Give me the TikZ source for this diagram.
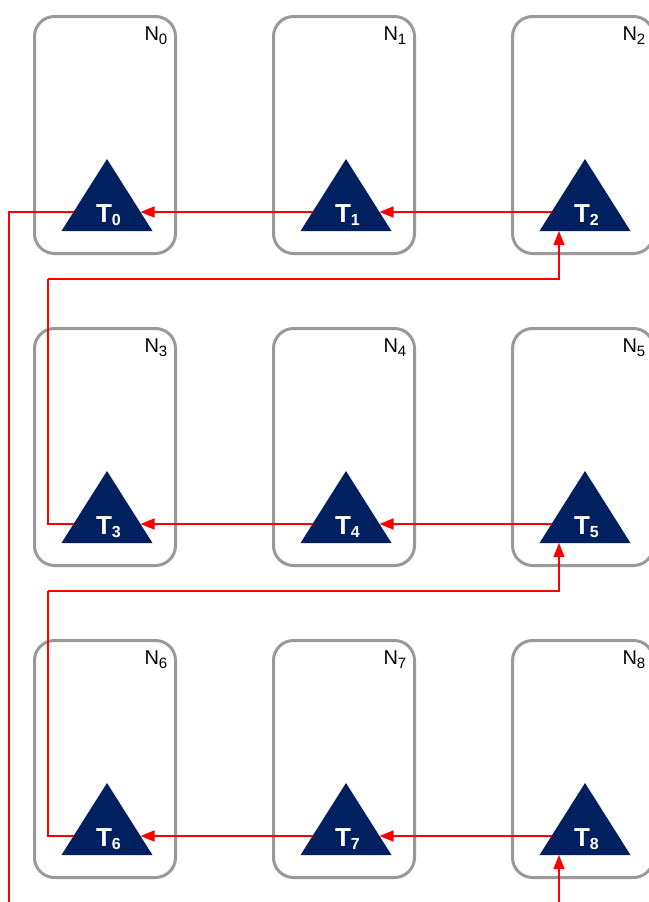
\documentclass[tikz,border=0pt]{standalone}
\usepackage{fontspec}
\setmainfont{Liberation Sans}
\usetikzlibrary{arrows.meta,calc}
\definecolor{taskblue}{HTML}{002060}
\definecolor{boxgray}{HTML}{999999}
\newcommand\nsub[1]{\raisebox{-4pt}{\fontsize{15}{15}\selectfont #1}}
\newcommand\tsub[1]{\raisebox{-3pt}{\fontsize{16}{16}\selectfont #1}}
\tikzset{
  nodebox/.style={draw=boxgray, line width=3pt, rounded corners=20pt,
    minimum width=141pt, minimum height=237pt, inner sep=0pt, outer sep=0pt},
  nodename/.style={anchor=base east, inner sep=0pt, font=\fontsize{20}{20}\selectfont},
  tasklabel/.style={anchor=base, inner sep=0pt, text=white,
    font=\bfseries\fontsize{26}{26}\selectfont},
  link/.style={red, line width=1.6pt},
  flow/.style={link, -{Triangle[length=14pt,width=11pt]}}
}
\begin{document}
\begin{tikzpicture}[x=1pt, y=-1pt]
\useasboundingbox (0,0) rectangle (648,902);

% nine compute nodes, each holding one task
\foreach \i/\c/\r in {0/0/0,1/1/0,2/2/0,3/0/1,4/1/1,5/2/1,6/0/2,7/1/2,8/2/2} {
  \pgfmathsetmacro\cx{105+239*\c}
  \pgfmathsetmacro\cy{135+312*\r}
  \node[nodebox] (n\i) at (\cx,\cy) {};
  \node[nodename] (nl\i) at ($(n\i.north east)+(-8,24)$) {N\nsub{\i}};
  \coordinate (t\i) at ($(n\i.center)+(2,77)$);
  \fill[taskblue] ($(t\i)+(0,-53)$) -- ($(t\i)+(45.5,19)$) -- ($(t\i)+(-45.5,19)$) -- cycle;
  \node[tasklabel] (tl\i) at ($(t\i)+(1.5,10)$) {T\tsub{\i}};
  \coordinate (t\i-w) at ($(t\i)+(-33.5,0)$);
  \coordinate (t\i-e) at ($(t\i)+(33.5,0)$);
  \coordinate (t\i-b) at ($(t\i)+(-26,19)$);
}

% entry and exit of the chain, and the bends between rows
\coordinate (in)  at (559,902);
\coordinate (out) at (9,902);
\coordinate (bend2) at (48,279);
\coordinate (bend5) at (48,591);

% the chain of tasks
\draw[flow] (in) -- (t8-b);
\draw[flow] (t8-w) -- (t7-e);
\draw[flow] (t7-w) -- (t6-e);
\draw[link] (t6-w) -| (bend5);
\draw[flow] (bend5) -| (t5-b);
\draw[flow] (t5-w) -- (t4-e);
\draw[flow] (t4-w) -- (t3-e);
\draw[link] (t3-w) -| (bend2);
\draw[flow] (bend2) -| (t2-b);
\draw[flow] (t2-w) -- (t1-e);
\draw[flow] (t1-w) -- (t0-e);
\draw[link] (t0-w) -| (out);
\end{tikzpicture}
\end{document}
